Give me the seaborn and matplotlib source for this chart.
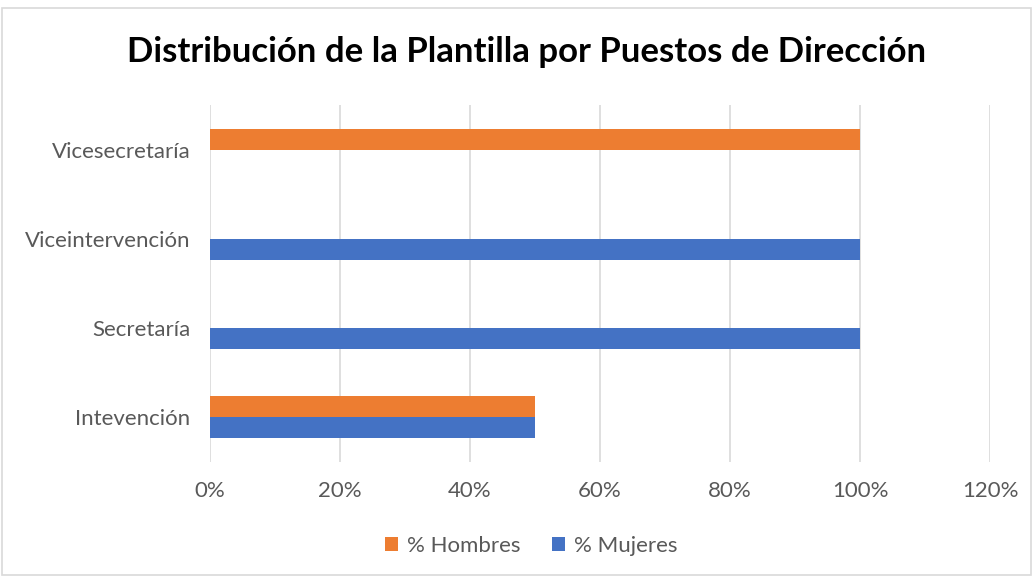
import matplotlib
matplotlib.use("Agg")
import matplotlib.pyplot as plt
import seaborn as sns
import pandas as pd
from matplotlib.patches import Rectangle
from matplotlib.ticker import PercentFormatter

categories = ["Vicesecretaría", "Viceintervención", "Secretaría", "Intevención"]
hombres = [100, 0, 0, 50]
mujeres = [0, 100, 100, 50]
series = ["% Hombres", "% Mujeres"]
colors = ["#ED7D31", "#4472C4"]

df = pd.DataFrame({
    "cat": categories * 2,
    "val": hombres + mujeres,
    "serie": [series[0]] * 4 + [series[1]] * 4,
})

sns.set_theme(style="white")
plt.rcParams["font.family"] = ["Lato", "DejaVu Sans"]

fig = plt.figure(figsize=(10.33, 5.76), dpi=100)
ax = fig.add_axes([210 / 1033, 1 - 462 / 576, 780 / 1033, 357 / 576])

sns.barplot(data=df, y="cat", x="val", hue="serie", order=categories,
            hue_order=series, palette=colors, orient="h", width=0.47,
            linewidth=0, saturation=1, ax=ax, legend=True)

ax.set_xlim(0, 120)
ax.set_xticks(range(0, 121, 20))
ax.xaxis.set_major_formatter(PercentFormatter(decimals=0))
ax.grid(axis="x", color="#D9D9D9", linewidth=1.2)
ax.set_axisbelow(True)
for s in ax.spines.values():
    s.set_visible(False)
ax.set_xlabel("")
ax.set_ylabel("")
ax.tick_params(axis="both", length=0, labelsize=16, labelcolor="#595959")
ax.tick_params(axis="x", pad=14)
ax.tick_params(axis="y", pad=14)

handles, labels = ax.get_legend_handles_labels()
ax.get_legend().remove()
leg = fig.legend(handles, labels, loc="center", bbox_to_anchor=(531 / 1033, 1 - 546 / 576),
                 ncol=2, frameon=False, fontsize=16, handlelength=0.6, handleheight=0.6,
                 handletextpad=0.4, columnspacing=1.4)
for t in leg.get_texts():
    t.set_color("#595959")

fig.text(527 / 1033, 1 - 52 / 576, "Distribución de la Plantilla por Puestos de Dirección",
         ha="center", va="center", fontsize=25, fontweight="bold", color="black")

fig.patches.append(Rectangle((0.002, 0.002), 0.996, 0.984, transform=fig.transFigure,
                             fill=False, edgecolor="#D9D9D9", linewidth=1.2))

fig.savefig("out.png", dpi=100)
